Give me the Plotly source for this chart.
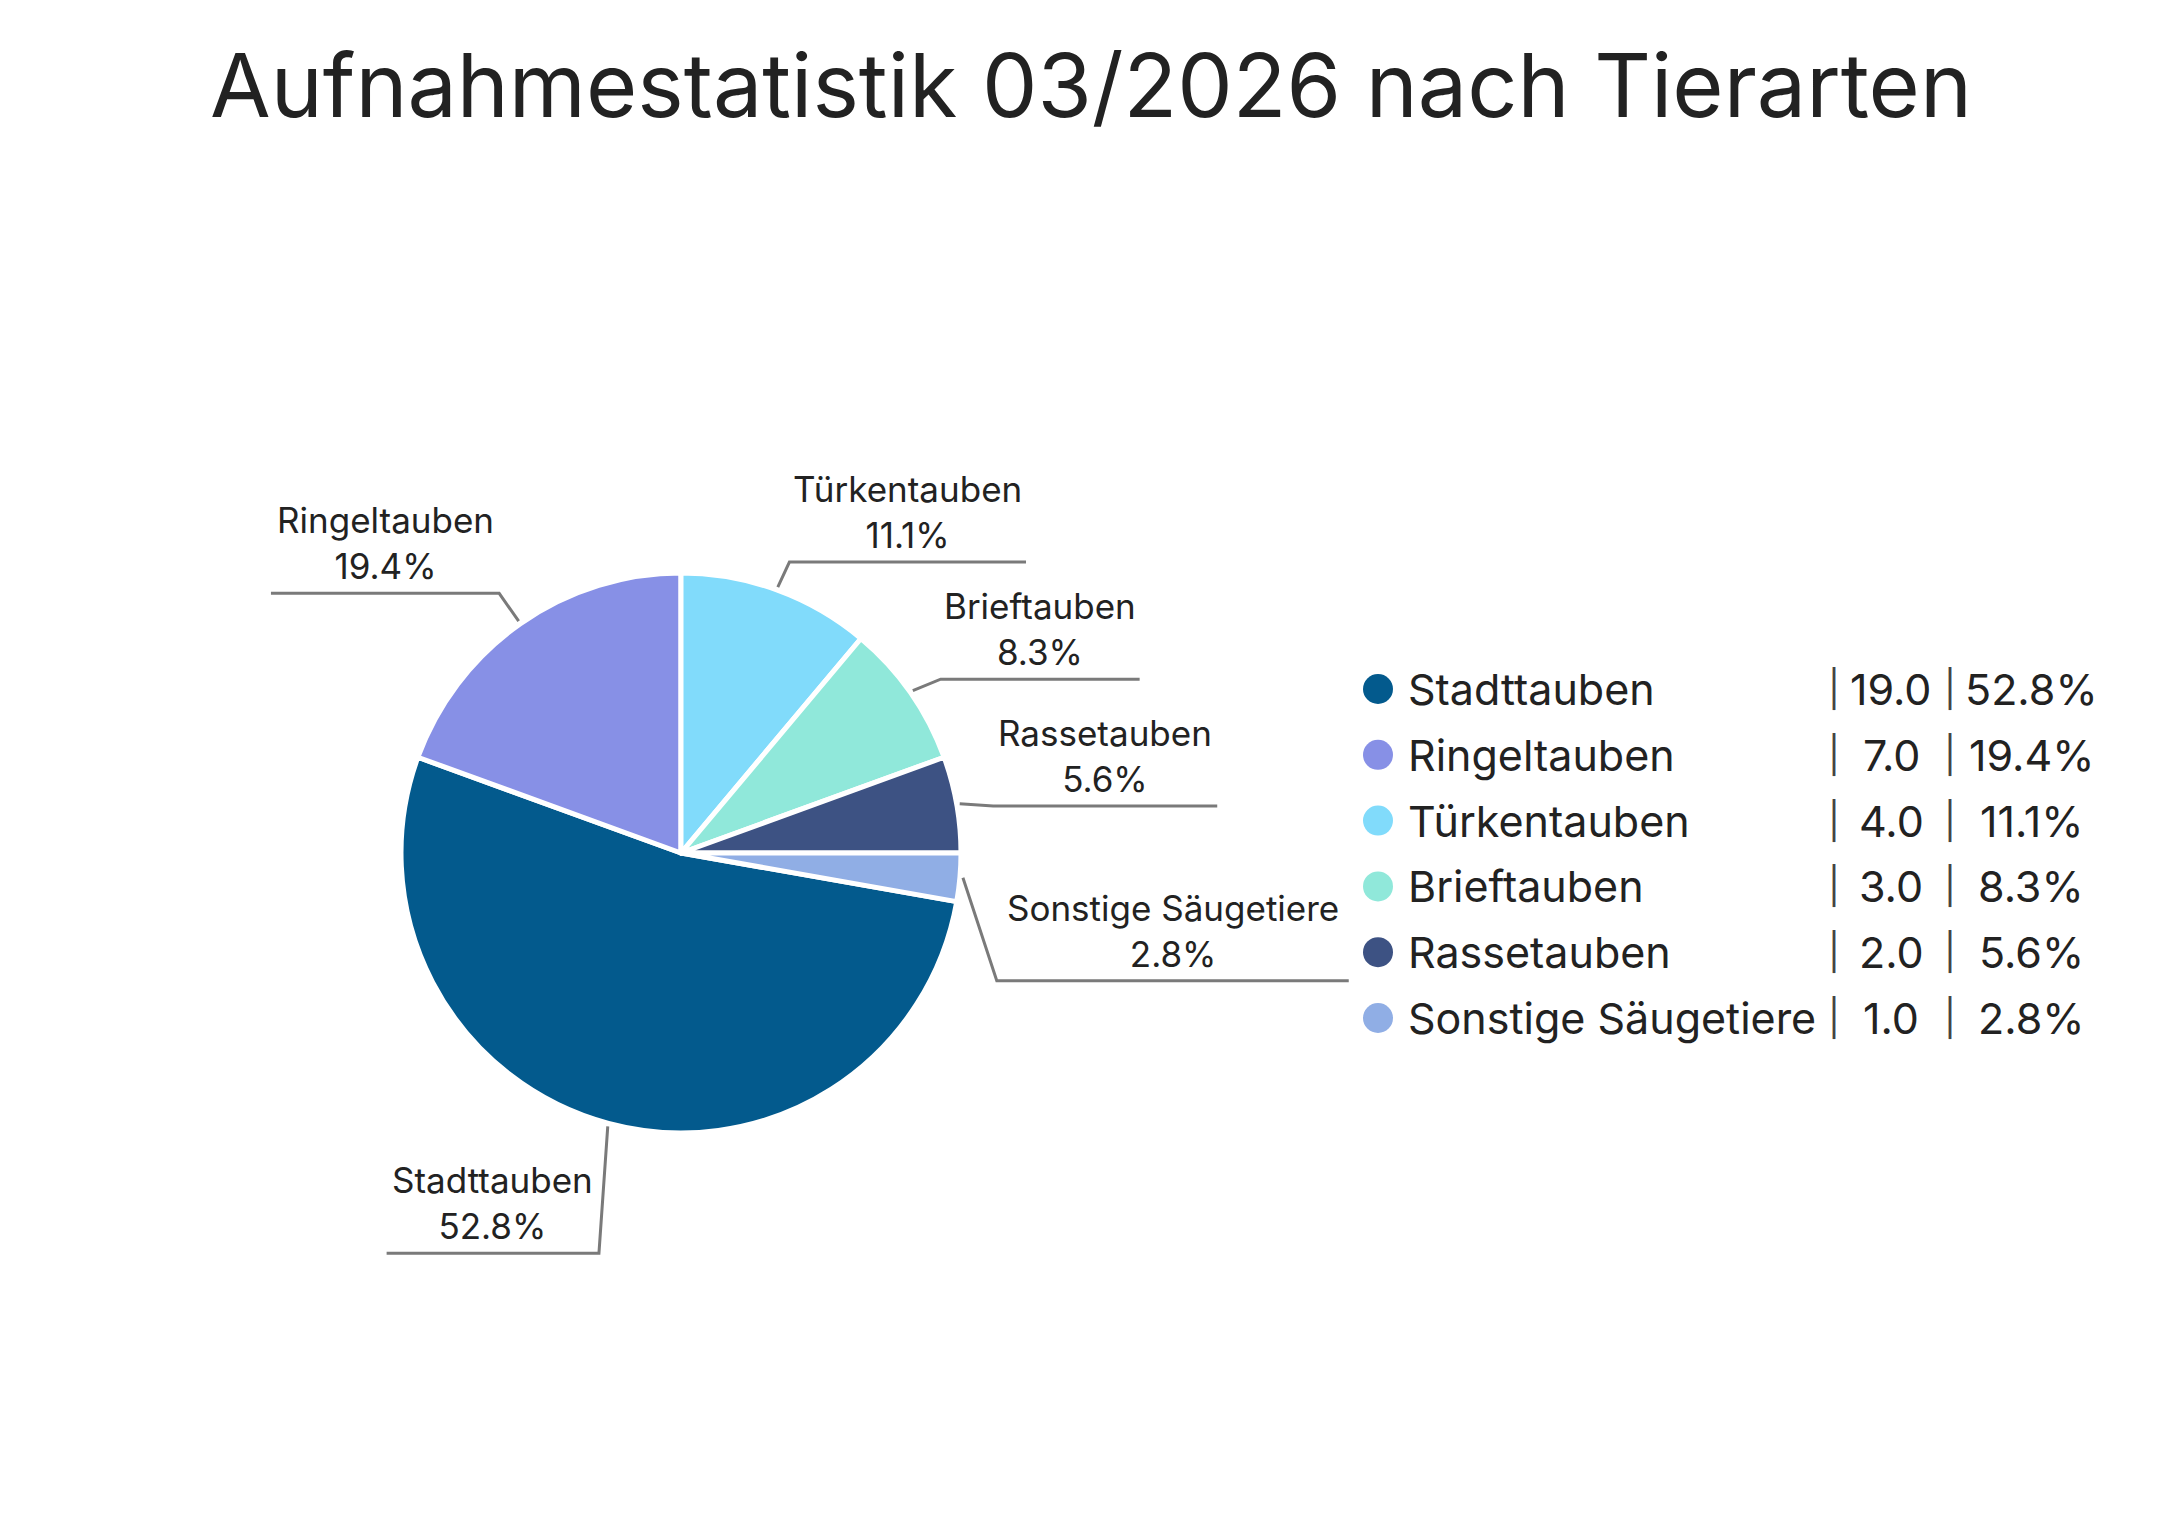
import math
import plotly.graph_objects as go

# ---------------- data ----------------
categories = ["Stadttauben", "Ringeltauben", "Türkentauben", "Brieftauben",
              "Rassetauben", "Sonstige Säugetiere"]
values = [19.0, 7.0, 4.0, 3.0, 2.0, 1.0]
colors = ["#035A8D", "#8790E6", "#81DBFB", "#90E8DA", "#3D5283", "#90AEE5"]
title_text = "Aufnahmestatistik 03/2026 nach Tierarten"

# ---------------- layout parameters (pixels on the page) ----------------
W, H = 2182, 1536
PAGE_OFF = 8                        # default body margin of the html page
CX, CY, R = 681, 853, 280          # pie centre and radius
ROTATION = 100                      # start angle of first slice (deg, clockwise from 12h)
LEG1 = 37                           # first leader segment length
LABEL_NUDGE = {"Stadttauben": 94, "Sonstige Säugetiere": 100,
               "Türkentauben": 7, "Brieftauben": 8, "Rassetauben": 8}   # vertical label shifts
UNIT_W = 20.9                       # approx glyph width unit for the horizontal leader
NARROW = set("iljfrI|.,: ")
SEMI = set("t")
FONT = "Inter, 'Noto Sans', sans-serif"
TXT = "#222222"
LINE = "#7a7a7a"


def px(x):
    return (x - PAGE_OFF) / W


def py(y):
    return 1 - (y - PAGE_OFF) / H


def text_w(s):
    return UNIT_W * sum(0.6 if ch in NARROW else 0.72 if ch in SEMI else 1.0 for ch in s)


total = sum(values)
pcts = [v / total * 100 for v in values]

fig = go.Figure()
fig.add_trace(go.Pie(
    labels=categories, values=values, sort=False, direction="clockwise",
    rotation=ROTATION, textinfo="none", showlegend=False,
    marker=dict(colors=colors, line=dict(color="white", width=5)),
    domain=dict(x=[px(CX - R), px(CX + R)], y=[py(CY + R), py(CY - R)]),
))

shapes = []
annotations = []

# ---------------- outside labels with leader lines ----------------
cum = 0.0
for name, v, p in zip(categories, values, pcts):
    mid = ROTATION + (cum + v / 2) / total * 360
    cum += v
    a = math.radians(mid)
    sx, sy = CX + (R + 3) * math.sin(a), CY - (R + 3) * math.cos(a)
    ex = CX + (R + LEG1) * math.sin(a)
    ey = CY - (R + LEG1) * math.cos(a) + LABEL_NUDGE.get(name, 0)
    w = text_w(name)
    right = math.sin(a) >= 0
    hx = ex + w if right else ex - w
    shapes.append(dict(type="path", xref="paper", yref="paper",
                       path=f"M {px(sx)} {py(sy)} L {px(ex)} {py(ey)} L {px(hx)} {py(ey)}",
                       line=dict(color=LINE, width=3)))
    annotations.append(dict(x=px((ex + hx) / 2), y=py(ey - 4), xref="paper", yref="paper",
                            text=f"{name}<br>{p:.1f}%", showarrow=False,
                            xanchor="center", yanchor="bottom", align="center",
                            font=dict(family=FONT, size=35, color=TXT)))

# ---------------- custom legend ----------------
LX, LTX, BAR1, VALX, BAR2, PCTX = 1378, 1406, 1834, 1891, 1950, 2031
LY0, LDY, DOT = 689, 65.8, 30
for i, (name, v, p, c) in enumerate(zip(categories, values, pcts, colors)):
    y = LY0 + i * LDY
    shapes.append(dict(type="circle", xref="paper", yref="paper",
                       x0=px(LX - DOT / 2), x1=px(LX + DOT / 2),
                       y0=py(y + DOT / 2), y1=py(y - DOT / 2),
                       fillcolor=c, line=dict(width=0)))
    annotations.append(dict(x=px(LTX), y=py(y), xref="paper", yref="paper", text=name,
                            showarrow=False, xanchor="left", yanchor="middle",
                            font=dict(family=FONT, size=43, color=TXT)))
    for bx in (BAR1, BAR2):
        annotations.append(dict(x=px(bx), y=py(y), xref="paper", yref="paper", text="|",
                                showarrow=False, xanchor="center", yanchor="middle",
                                font=dict(family=FONT, size=36, color="#444444")))
    annotations.append(dict(x=px(VALX), y=py(y), xref="paper", yref="paper", text=f"{v:.1f}",
                            showarrow=False, xanchor="center", yanchor="middle",
                            font=dict(family=FONT, size=43, color=TXT)))
    annotations.append(dict(x=px(PCTX), y=py(y), xref="paper", yref="paper", text=f"{p:.1f}%",
                            showarrow=False, xanchor="center", yanchor="middle",
                            font=dict(family=FONT, size=43, color=TXT)))

fig.update_layout(
    width=W, height=H, margin=dict(l=0, r=0, t=0, b=0),
    paper_bgcolor="white", plot_bgcolor="white",
    title=dict(text=title_text, x=px(W / 2), xanchor="center", y=py(86), yanchor="middle",
               yref="container", font=dict(family=FONT, size=88, color=TXT)),
    shapes=shapes, annotations=annotations,
)

fig.write_html("out.html")
